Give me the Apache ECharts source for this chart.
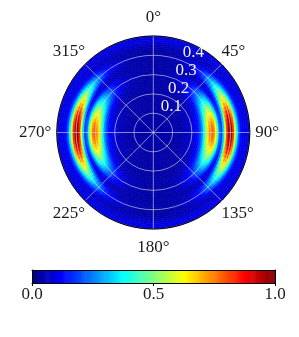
<!DOCTYPE html>
<html>
<head>
<meta charset="utf-8">
<script src="https://cdn.jsdelivr.net/npm/echarts@6/dist/echarts.min.js"></script>
<style>html,body{margin:0;padding:0;background:#fff;}#c{width:299px;height:337px;}</style>
</head>
<body>
<div id="c"></div>
<script>
// Radial bins (centres) every 0.01 from 0.005 to 0.495
const radialStep = 0.01;
// Band intensity along the 90°/270° direction (added on top of the base level)
const bandProfile = [
  0,0,0,0,0,0,0,0,0,0,
  0,0,0,0,0,0.01,0.02,0.02,0.03,0.04,
  0.05,0.06,0.08,0.11,0.16,0.24,0.36,0.50,0.62,0.71,
  0.75,0.72,0.60,0.40,0.20,0.14,0.30,0.55,0.82,0.96,
  0.95,0.80,0.55,0.33,0.16,0.07,0.03,0.01,0,0
];
// Angle-independent background level
const baseProfile = [
  0.04,0.04,0.04,0.04,0.04,0.04,0.04,0.04,0.04,0.04,
  0.04,0.04,0.04,0.04,0.04,0.04,0.04,0.04,0.04,0.04,
  0.04,0.04,0.04,0.04,0.04,0.04,0.04,0.04,0.04,0.04,
  0.04,0.04,0.04,0.04,0.04,0.04,0.04,0.04,0.04,0.04,
  0.04,0.04,0.04,0.04,0.05,0.06,0.08,0.09,0.10,0.09
];
// Angular weight of the bands, for angle 0°,3°,...,90° (mirror-symmetric)
const angleStep = 3;
const angularWeight = [
  0,0,0,0,0.005,0.01,0.015,0.02,0.03,0.04,0.055,
  0.075,0.10,0.13,0.17,0.21,0.26,0.31,0.37,0.43,0.50,
  0.57,0.64,0.71,0.78,0.84,0.89,0.94,0.97,0.99,1.00
];
const angleTicks = [0,45,90,135,180,225,270,315];
const radiusTicks = [0.1,0.2,0.3,0.4];
const colorbarTicks = [0.0,0.5,1.0];

const jet = ['#00007f','#0000ff','#007fff','#00ffff','#7fff7f','#ffff00','#ff7f00','#ff0000','#7f0000'];
const FONT = 'Liberation Serif';

function weightAt(a){
  let t = ((a % 180) + 180) % 180;
  if (t > 90) t = 180 - t;
  return angularWeight[Math.round(t / angleStep)];
}

const cells = [];
for (let ai = 0; ai < 360 / angleStep; ai++) {
  const a = ai * angleStep;
  const w = weightAt(a);
  for (let ri = 0; ri < bandProfile.length; ri++) {
    const r = (ri + 0.5) * radialStep;
    cells.push([r, a, baseProfile[ri] + bandProfile[ri] * w]);
  }
}

const cbar = [];
const NC = 256;
for (let i = 0; i < NC; i++) cbar.push([i / NC, (i + 1) / NC, (i + 0.5) / NC]);

const chart = echarts.init(document.getElementById('c'), null, {renderer:'canvas'});
const gridLine = {color:'rgba(225,225,225,0.75)', width:0.8};

chart.setOption({
  backgroundColor:'#fff',
  animation:false,
  visualMap:{type:'continuous', show:false, min:0, max:1, dimension:2, seriesIndex:[0,1], inRange:{color:jet}},
  polar:[
    {center:[153.3,132.5], radius:96.5},
    {center:[153.3,132.5], radius:96.5}
  ],
  angleAxis:[
    {polarIndex:0, type:'value', min:0, max:360, interval:45, startAngle:90, clockwise:true, z:10,
     axisLine:{lineStyle:{color:'#000', width:1}},
     axisTick:{show:false},
     axisLabel:{margin:18.5, align:'center', padding:[-9,-13,-9,-13], lineHeight:18, color:'#1a1a1a', fontFamily:FONT, fontSize:17,
       formatter:v => angleTicks.indexOf(v) >= 0 ? v + '°' : ''},
     splitLine:{show:true, lineStyle:gridLine}},
    {polarIndex:1, type:'value', min:0, max:360, startAngle:67.5, show:false}
  ],
  radiusAxis:[
    {polarIndex:0, type:'value', min:0, max:0.5, interval:0.1, z:9,
     axisLine:{show:false}, axisTick:{show:false}, axisLabel:{show:false},
     splitLine:{show:true, lineStyle:gridLine}},
    {polarIndex:1, type:'value', min:0, max:0.5, interval:0.1, z:11,
     axisLine:{show:false}, axisTick:{show:false}, splitLine:{show:false},
     axisLabel:{margin:0, align:'left', verticalAlign:'bottom', color:'#f0f0f0', fontFamily:FONT, fontSize:17,
       formatter:v => radiusTicks.some(t => Math.abs(t - v) < 1e-6) ? v.toFixed(1) : ''}}
  ],
  grid:{left:32, top:270, width:243, height:13},
  xAxis:[
    {type:'value', min:0, max:1, interval:0.5, position:'bottom', z:5,
     axisLine:{show:true, onZero:false, lineStyle:{color:'#000', width:1}},
     axisTick:{show:true, length:3, lineStyle:{color:'#000'}},
     axisLabel:{margin:3, color:'#1a1a1a', fontFamily:FONT, fontSize:17,
       formatter:v => colorbarTicks.some(t => Math.abs(t - v) < 1e-6) ? v.toFixed(1) : ''},
     splitLine:{show:false}},
    {type:'value', min:0, max:1, position:'top', z:5,
     axisLine:{show:true, onZero:false, lineStyle:{color:'#000', width:1}},
     axisTick:{show:false}, axisLabel:{show:false}, splitLine:{show:false}}
  ],
  yAxis:[
    {type:'value', min:0, max:1, position:'left', z:5,
     axisLine:{show:true, onZero:false, lineStyle:{color:'#000', width:1}},
     axisTick:{show:false}, axisLabel:{show:false}, splitLine:{show:false}},
    {type:'value', min:0, max:1, position:'right', z:5,
     axisLine:{show:true, onZero:false, lineStyle:{color:'#000', width:1}},
     axisTick:{show:false}, axisLabel:{show:false}, splitLine:{show:false}}
  ],
  series:[
    {type:'custom', coordinateSystem:'polar', polarIndex:0, z:2, silent:true,
     encode:{radius:0, angle:1},
     data:cells,
     renderItem:function(params, api){
       const r = api.value(0), a = api.value(1);
       const c = api.coord([0, 0]);
       const cx = c[0], cy = c[1];
       const pIn = api.coord([r - radialStep/2, a]);
       const pOut = api.coord([r + radialStep/2, a]);
       const rIn = Math.hypot(pIn[0]-cx, pIn[1]-cy);
       const rOut = Math.hypot(pOut[0]-cx, pOut[1]-cy);
       const pA = api.coord([0.5, a - angleStep/2]);
       const ang0 = Math.atan2(pA[1]-cy, pA[0]-cx);
       const ang1 = ang0 + angleStep * Math.PI / 180;
       const col = api.visual('color');
       return {type:'sector',
         shape:{cx:cx, cy:cy, r0:rIn, r:rOut, startAngle:ang0, endAngle:ang1, clockwise:true},
         style:{fill:col, stroke:col, lineWidth:0.6}};
     }},
    {type:'custom', coordinateSystem:'cartesian2d', xAxisIndex:0, yAxisIndex:0, z:2, silent:true,
     encode:{x:0, y:1},
     data:cbar,
     renderItem:function(params, api){
       const p0 = api.coord([api.value(0), 0]);
       const p1 = api.coord([api.value(1), 1]);
       const col = api.visual('color');
       return {type:'rect',
         shape:{x:p0[0], y:p1[1], width:p1[0]-p0[0]+0.6, height:p0[1]-p1[1]},
         style:{fill:col}};
     }}
  ]
});
</script>
</body>
</html>
